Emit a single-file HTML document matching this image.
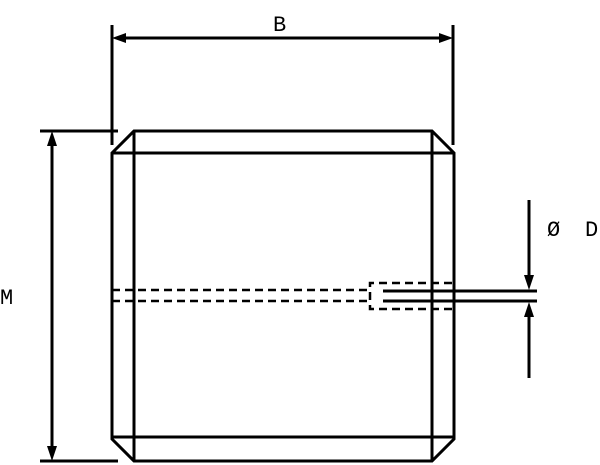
<!DOCTYPE html>
<html><head><style>body{margin:0;background:#fff}svg{display:block}</style></head><body>
<svg width="600" height="465" viewBox="0 0 600 465" xmlns="http://www.w3.org/2000/svg">
<g stroke="#000" stroke-width="3" fill="none">
<path d="M134,131 L432,131 L454,153 L454,439 L432,461 L134,461 L112,439 L112,153 Z"/>
<line x1="134" y1="131" x2="134" y2="461"/>
<line x1="432" y1="131" x2="432" y2="461"/>
<line x1="112" y1="153" x2="454" y2="153"/>
<line x1="112" y1="437" x2="454" y2="437"/>
<line x1="112" y1="25" x2="112" y2="145"/>
<line x1="453" y1="25" x2="453" y2="145"/>
<line x1="40" y1="131" x2="118" y2="131"/>
<line x1="40" y1="461" x2="118" y2="461"/>
<line x1="120" y1="38" x2="445" y2="38"/>
<line x1="52" y1="140" x2="52" y2="452"/>
<line x1="529" y1="200" x2="529" y2="280"/>
<line x1="529" y1="312" x2="529" y2="378"/>
<line x1="383" y1="291" x2="537" y2="291"/>
<line x1="383" y1="301" x2="537" y2="301"/>
</g>
<g stroke="#000" stroke-width="2.5" fill="none" stroke-dasharray="8,5">
<line x1="112" y1="290" x2="368" y2="290"/>
<line x1="112" y1="301" x2="368" y2="301"/>
<path d="M452,283 L370,283 L370,309 L452,309"/>
</g>
<g fill="#000">
<polygon points="112,38 126,33 126,43"/>
<polygon points="453,38 439,33 439,43"/>
<polygon points="52,131 47,146 57,146"/>
<polygon points="52,461 47,446 57,446"/>
<polygon points="529,290 524,275 534,275"/>
<polygon points="529,302 524,317 534,317"/>
</g>
<g font-family="Liberation Mono, monospace" font-size="22" fill="#000">
<text x="273" y="31">B</text>
<text x="0" y="304">M</text>
<text x="547" y="236">Ø</text>
<text x="585" y="236">D</text>
</g>
</svg>
</body></html>
